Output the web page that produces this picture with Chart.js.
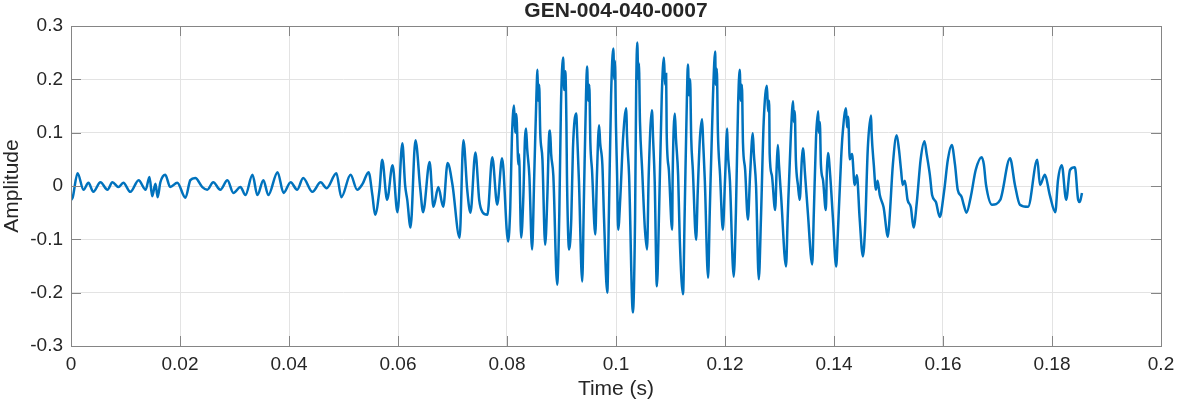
<!DOCTYPE html>
<html>
<head>
<meta charset="utf-8">
<script src="https://cdn.jsdelivr.net/npm/chart.js@4"></script>
<style>
  body { margin: 0; background: #fff; }
  #wrap { width: 1177px; height: 404px; }
</style>
</head>
<body>
<div id="wrap"><canvas id="myChart"></canvas></div>
<script>
const chartTitle = 'GEN-004-040-0007';
const xTitle = 'Time (s)';
const yTitle = 'Amplitude';

// time (s) and amplitude, peak by peak
const times = [
  0.0000, 0.0003, 0.0012, 0.0023, 0.0032, 0.0041, 0.0054, 0.0067, 0.0076, 0.0087,
  0.0096, 0.0109, 0.0124, 0.0137, 0.0144, 0.0149, 0.0155, 0.0159, 0.0164, 0.0173,
  0.0182, 0.0195, 0.0210, 0.0219, 0.0228, 0.0241, 0.0250, 0.0261, 0.0274, 0.0287,
  0.0298, 0.0311, 0.0320, 0.0333, 0.0342, 0.0353, 0.0362, 0.0379, 0.0390, 0.0403,
  0.0415, 0.0426, 0.0443, 0.0458, 0.0469, 0.0487, 0.0496, 0.0513, 0.0525, 0.0535,
  0.0546, 0.0553, 0.0558, 0.0566, 0.0571, 0.0580, 0.0590, 0.0599, 0.0608, 0.0613,
  0.0617, 0.0623, 0.0632, 0.0641, 0.0646, 0.0658, 0.0665, 0.0674, 0.0683, 0.0691,
  0.0700, 0.0713, 0.0720, 0.0727, 0.0733, 0.0742, 0.0749, 0.0755, 0.0764, 0.0773,
  0.0782, 0.0791,
  0.0802, 0.0806, 0.0809, 0.0813, 0.0815, 0.0817, 0.0821, 0.0822, 0.0826, 0.0830,
  0.0833, 0.0835, 0.0837, 0.0841, 0.0846, 0.0850, 0.0854, 0.0856, 0.0857, 0.0859,
  0.0861, 0.0865, 0.0870, 0.0874, 0.0877, 0.0879, 0.0881, 0.0885, 0.0892, 0.0896,
  0.0899, 0.0903, 0.0905, 0.0907, 0.0909, 0.0910, 0.0914, 0.0918, 0.0921, 0.0927,
  0.0929, 0.0932, 0.0938, 0.0941, 0.0945, 0.0947, 0.0949, 0.0951, 0.0953, 0.0956,
  0.0962, 0.0965, 0.0969, 0.0971, 0.0975, 0.0978, 0.0984, 0.0987, 0.0991, 0.0995,
  0.0997, 0.0998, 0.1000, 0.1002, 0.1004, 0.1008, 0.1013, 0.1019, 0.1020, 0.1024,
  0.1031, 0.1035, 0.1037, 0.1039, 0.1041, 0.1042, 0.1044, 0.1048, 0.1053, 0.1057,
  0.1060, 0.1066, 0.1068, 0.1071, 0.1075, 0.1079, 0.1084, 0.1088, 0.1090, 0.1092,
  0.1093, 0.1097, 0.1103, 0.1104, 0.1108, 0.1110, 0.1114, 0.1117, 0.1123, 0.1126,
  0.1130, 0.1132, 0.1134, 0.1136, 0.1138, 0.1141, 0.1147, 0.1150, 0.1154, 0.1158,
  0.1160, 0.1163, 0.1169, 0.1172, 0.1178, 0.1182, 0.1183, 0.1185, 0.1187, 0.1191,
  0.1196, 0.1200, 0.1204, 0.1205, 0.1209, 0.1216, 0.1220, 0.1224, 0.1227, 0.1229,
  0.1231, 0.1233, 0.1237, 0.1242, 0.1246, 0.1251, 0.1253, 0.1257, 0.1262, 0.1266,
  0.1271, 0.1277, 0.1279, 0.1281, 0.1282, 0.1286, 0.1292, 0.1295, 0.1297, 0.1299,
  0.1303, 0.1312, 0.1315, 0.1321, 0.1325, 0.1326, 0.1328, 0.1330, 0.1334, 0.1337,
  0.1341, 0.1343, 0.1347, 0.1352, 0.1360, 0.1363, 0.1367, 0.1371, 0.1372, 0.1374,
  0.1376, 0.1380, 0.1385, 0.1387, 0.1389, 0.1393, 0.1398, 0.1404, 0.1407, 0.1413,
  0.1416, 0.1422, 0.1424, 0.1426, 0.1429, 0.1433, 0.1438, 0.1442, 0.1447, 0.1453,
  0.1457, 0.1462, 0.1468, 0.1469, 0.1473, 0.1477, 0.1480, 0.1484, 0.1491, 0.1499,
  0.1502, 0.1508, 0.1515, 0.1519, 0.1523, 0.1526, 0.1530, 0.1535, 0.1541, 0.1546,
  0.1552, 0.1559, 0.1566, 0.1570, 0.1576, 0.1580, 0.1587, 0.1594, 0.1602, 0.1609,
  0.1616, 0.1622, 0.1627, 0.1634, 0.1638, 0.1643, 0.1651, 0.1660, 0.1671, 0.1675,
  0.1679,
  0.1690, 0.1705, 0.1723, 0.1732, 0.1741, 0.1756, 0.1773, 0.1778, 0.1787, 0.1796,
  0.1806, 0.1811, 0.1818, 0.1826, 0.1833, 0.1842, 0.1848, 0.1851, 0.1855
];
const amplitude = [
  -0.026, -0.022, 0.024, -0.007, 0.006, -0.011, 0.007, -0.007, 0.007, -0.002,
  0.006, -0.011, 0.011, -0.007, 0.017, -0.019, 0.004, -0.021, 0.007, 0.021,
  -0.002, 0.006, -0.022, 0.011, 0.015, -0.002, -0.007, 0.007, -0.007, 0.011,
  -0.013, -0.002, -0.017, 0.021, -0.017, 0.011, -0.017, 0.026, -0.013, 0.007,
  -0.007, 0.015, -0.011, 0.007, -0.004, 0.024, -0.021, 0.021, -0.007, 0.004,
  0.026, -0.017, -0.054, -0.007, 0.049, -0.026, 0.039, -0.049, 0.080, 0.002,
  -0.026, -0.078, 0.086, -0.007, -0.049, 0.045, -0.039, -0.002, -0.039, 0.043,
  0.002, -0.097, 0.086, -0.007, -0.050, 0.063, -0.026, -0.049, -0.054, 0.054,
  -0.035, 0.052,
  -0.104, -0.040, 0.090, 0.151, 0.100, 0.135, 0.040, 0.060, -0.097, -0.020,
  0.090, 0.108, 0.070, 0.020, -0.119, 0.020, 0.170, 0.218, 0.160, 0.190,
  0.100, 0.050, -0.110, -0.020, 0.090, 0.104, 0.060, 0.020, -0.185, -0.050,
  0.150, 0.241, 0.180, 0.215, 0.120, 0.020, -0.119, -0.060, 0.070, 0.136,
  0.090, 0.010, -0.179, -0.030, 0.170, 0.224, 0.160, 0.190, 0.080, 0.030,
  -0.091, 0.020, 0.114, 0.080, 0.040, -0.060, -0.200, -0.050, 0.170, 0.258,
  0.200, 0.235, 0.110, 0.020, -0.082, -0.020, 0.090, 0.146, 0.100, 0.020,
  -0.237, -0.060, 0.180, 0.269, 0.200, 0.230, 0.120, 0.030, -0.080, -0.119,
  0.020, 0.142, 0.090, 0.010, -0.188, -0.050, 0.170, 0.241, 0.190, 0.210,
  0.100, 0.030, -0.082, 0.020, 0.136, 0.090, 0.020, -0.100, -0.203, -0.050,
  0.160, 0.228, 0.170, 0.200, 0.090, 0.030, -0.101, -0.010, 0.090, 0.125,
  0.080, 0.010, -0.172, -0.050, 0.170, 0.252, 0.190, 0.220, 0.100, 0.020,
  -0.082, 0.010, 0.108, 0.070, 0.010, -0.170, -0.050, 0.150, 0.218, 0.160,
  0.190, 0.080, 0.030, -0.063, 0.020, 0.099, 0.060, 0.000, -0.175, -0.060,
  0.120, 0.188, 0.140, 0.160, 0.060, 0.020, -0.045, 0.040, 0.077, 0.040,
  -0.020, -0.151, -0.060, 0.100, 0.159, 0.120, 0.140, 0.050, 0.000, -0.026,
  0.050, 0.071, 0.020, -0.050, -0.147, -0.050, 0.090, 0.140, 0.100, 0.120,
  0.040, 0.010, -0.045, 0.030, 0.062, 0.020, -0.060, -0.151, -0.090, 0.050,
  0.100, 0.146, 0.110, 0.130, 0.050, 0.060, 0.002, 0.020, -0.060, -0.132,
  -0.080, 0.070, 0.132, 0.100, 0.040, -0.007, 0.010, -0.017, -0.040, -0.095,
  -0.060, 0.040, 0.095, 0.070, 0.030, 0.002, 0.010, -0.026, -0.040, -0.078,
  -0.030, 0.050, 0.084, 0.060, 0.020, -0.017, -0.030, -0.058, -0.010, 0.050,
  0.077, 0.040, -0.007, -0.020, -0.035, -0.050, -0.020, 0.030, 0.054, 0.040,
  0.002,
  -0.035, -0.026, 0.052, 0.002, -0.035, -0.039, 0.049, 0.002, 0.021, -0.017,
  -0.049, 0.011, 0.039, -0.026, 0.030, 0.035, -0.026, -0.030, -0.013
];
const xTicks = [0, 0.02, 0.04, 0.06, 0.08, 0.1, 0.12, 0.14, 0.16, 0.18, 0.2];
const yTicks = [-0.3, -0.2, -0.1, 0, 0.1, 0.2, 0.3];

const axisGray = '#858585';

// MATLAB style box, inward ticks and a title centred over the plot area
const matlabBox = {
  id: 'matlabBox',
  afterDraw(chart) {
    const { ctx, chartArea: a, scales } = chart;
    const len = 10;
    ctx.save();
    ctx.strokeStyle = axisGray;
    ctx.lineWidth = 1;
    ctx.beginPath();
    xTicks.forEach(v => {
      const px = Math.round(scales.x.getPixelForValue(v)) + 0.5;
      ctx.moveTo(px, a.bottom); ctx.lineTo(px, a.bottom - len);
      ctx.moveTo(px, a.top); ctx.lineTo(px, a.top + len);
    });
    yTicks.forEach(v => {
      const py = Math.round(scales.y.getPixelForValue(v)) + 0.5;
      ctx.moveTo(a.left, py); ctx.lineTo(a.left + len, py);
      ctx.moveTo(a.right, py); ctx.lineTo(a.right - len, py);
    });
    ctx.stroke();
    ctx.strokeRect(Math.round(a.left) + 0.5, Math.round(a.top) + 0.5,
      Math.round(a.right - a.left), Math.round(a.bottom - a.top));

    ctx.fillStyle = '#262626';
    ctx.font = 'bold 21px "Liberation Sans", Arial, sans-serif';
    ctx.textAlign = 'center';
    ctx.textBaseline = 'middle';
    ctx.fillText(chartTitle, (a.left + a.right) / 2, 11);
    ctx.restore();
  }
};

const ctx = document.getElementById('myChart');

new Chart(ctx, {
  type: 'line',
  data: {
    datasets: [{
      data: times.map((t, i) => ({ x: t, y: amplitude[i] })),
      borderColor: '#0072BD',
      borderWidth: 2.5,
      pointRadius: 0,
      cubicInterpolationMode: 'monotone',
      fill: false
    }]
  },
  options: {
    responsive: true,
    maintainAspectRatio: false,
    animation: false,
    layout: { padding: { top: 26, right: 16, left: 0, bottom: 0 } },
    plugins: {
      legend: { display: false },
      title: { display: false },
      tooltip: { enabled: false }
    },
    scales: {
      x: {
        type: 'linear',
        min: 0,
        max: 0.2,
        afterFit: s => { s.height = 58; s.paddingLeft = 0; s.paddingRight = 0; },
        afterBuildTicks: s => { s.ticks = xTicks.map(v => ({ value: v })); },
        ticks: {
          color: '#262626',
          font: { family: '"Liberation Sans", Arial, sans-serif', size: 19 },
          padding: 7,
          maxRotation: 0,
          callback: v => String(+v.toFixed(2))
        },
        grid: { color: '#e3e3e3', drawTicks: false },
        border: { display: false },
        title: {
          display: true,
          text: xTitle,
          color: '#262626',
          font: { family: '"Liberation Sans", Arial, sans-serif', size: 21 },
          padding: { top: 0, bottom: 2 }
        }
      },
      y: {
        type: 'linear',
        min: -0.3,
        max: 0.3,
        afterFit: s => { s.width = 71; s.paddingTop = 0; s.paddingBottom = 0; },
        afterBuildTicks: s => { s.ticks = yTicks.map(v => ({ value: v })); },
        ticks: {
          color: '#262626',
          font: { family: '"Liberation Sans", Arial, sans-serif', size: 19 },
          padding: 8,
          callback: v => String(+v.toFixed(2))
        },
        grid: { color: '#e3e3e3', drawTicks: false },
        border: { display: false },
        title: {
          display: true,
          text: yTitle,
          color: '#262626',
          font: { family: '"Liberation Sans", Arial, sans-serif', size: 21 },
          padding: { top: 0, bottom: 0 }
        }
      }
    }
  },
  plugins: [matlabBox]
});
</script>
</body>
</html>
